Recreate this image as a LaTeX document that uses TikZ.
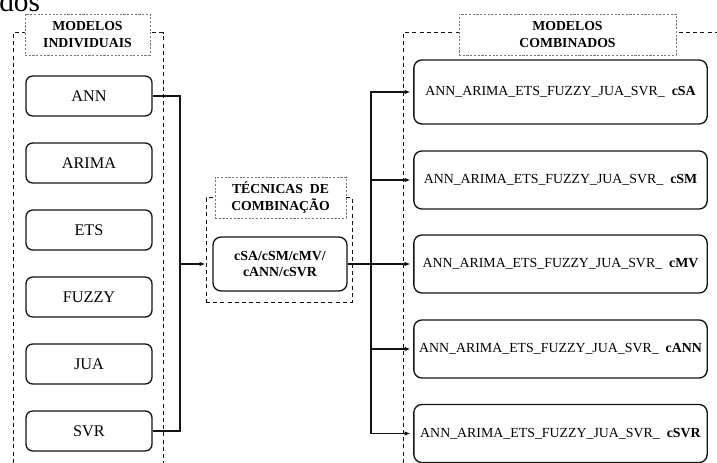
\documentclass[tikz,border=0pt]{standalone}
\usepackage{fontspec}
\setmainfont{Liberation Serif}
\usepackage{tikz}
\usetikzlibrary{arrows.meta,positioning}
\definecolor{figedge}{RGB}{20,20,20}
\definecolor{headedge}{RGB}{120,120,120}

\begin{document}
\begin{tikzpicture}[
  x=0.75pt, y=-0.75pt,
  modbox/.style={draw=figedge, line width=1pt, rounded corners=5pt, align=center,
    minimum width=94.5pt, minimum height=30pt, inner sep=2pt,
    font=\fontsize{12.2}{14}\selectfont},
  combbox/.style={draw=figedge, line width=1pt, rounded corners=6pt, align=center,
    minimum width=220pt, minimum height=43.5pt, inner sep=2pt,
    font=\fontsize{10.4}{12.5}\selectfont},
  headbox/.style={draw=headedge, dash pattern=on 1.6pt off 1.2pt, line width=0.6pt,
    fill=white, align=center, minimum height=30.75pt, inner sep=1pt,
    font=\bfseries\fontsize{10.3}{12.75}\selectfont},
  frame/.style={draw=figedge, dash pattern=on 3pt off 2.4pt, line width=0.75pt},
  arr/.style={-{Latex[length=4.5pt,width=3.5pt]}, line width=1.2pt, figedge},
  conn/.style={line width=1.2pt, figedge}]
  \useasboundingbox (0,0) rectangle (717,463);
  \node[anchor=base west, inner sep=0pt, font=\fontsize{22}{24}\selectfont] (prev) at (-1,12) {dos};
  % dashed frames
  \draw[frame] (13,470) -- (13,33) -- (163,33) -- (163,470);
  \draw[frame] (403,470) -- (403,33) -- (730,33);
  \node[frame, minimum width=109.5pt, minimum height=78pt] (tecframe) at (279,250) {};
  % headers
  \node[headbox, minimum width=93.75pt] (hind) at (87.5,34.5) {MODELOS\\INDIVIDUAIS};
  \node[headbox, minimum width=98.25pt] (htec) at (280.5,197.5) {TÉCNICAS\ \ DE\\COMBINAÇÃO};
  \node[headbox, minimum width=162.75pt] (hcomb) at (567.5,34.5) {MODELOS\\COMBINADOS};
  % individual models
  \node[modbox] (ann) at (89,96) {ANN};
  \node[modbox, below=19.25pt of ann] (arima) {ARIMA};
  \node[modbox, below=19.25pt of arima] (ets) {ETS};
  \node[modbox, below=19.25pt of ets] (fuzzy) {FUZZY};
  \node[modbox, below=19.25pt of fuzzy] (jua) {JUA};
  \node[modbox, below=19.25pt of jua] (svr) {SVR};
  % combination technique
  \node[draw=figedge, line width=1pt, rounded corners=6pt, align=center,
    minimum width=100.5pt, minimum height=40.5pt, inner sep=1pt,
    font=\bfseries\fontsize{10.4}{12}\selectfont] (tec) at (280,264) {cSA/cSM/cMV/\\cANN/cSVR};
  % combined models
  \node[combbox, minimum height=48pt] (csa) at (560.5,92) {ANN\_ARIMA\_ETS\_FUZZY\_JUA\_SVR\_\ \ \textbf{cSA}};
  \node[combbox] (csm) at (560.5,180) {ANN\_ARIMA\_ETS\_FUZZY\_JUA\_SVR\_\ \ \textbf{cSM}};
  \node[combbox] (cmv) at (560.5,264) {ANN\_ARIMA\_ETS\_FUZZY\_JUA\_SVR\_\ \ \textbf{cMV}};
  \node[combbox] (cann) at (560.5,349) {ANN\_ARIMA\_ETS\_FUZZY\_JUA\_SVR\_\ \ \textbf{cANN}};
  \node[combbox] (csvr) at (560.5,433.5) {ANN\_ARIMA\_ETS\_FUZZY\_JUA\_SVR\_\ \ \textbf{cSVR}};
  % connectors
  \coordinate (jl) at (180,264);
  \coordinate (jr) at (371,264);
  \draw[conn] (ann.east) -| (jl);
  \draw[conn] (svr.east) -| (jl);
  \draw[arr] (jl) -- (jl -| tecframe.west);
  \draw[conn] (tec.east) -- (jr);
  \draw[arr, shorten >=2pt] (jr) |- (csa.west);
  \draw[arr, shorten >=2pt] (jr) |- (csvr.west);
  \draw[arr, shorten >=2pt] (jr |- csm.west) -- (csm.west);
  \draw[arr, shorten >=2pt] (jr) -- (cmv.west);
  \draw[arr, shorten >=2pt] (jr |- cann.west) -- (cann.west);
\end{tikzpicture}
\end{document}
